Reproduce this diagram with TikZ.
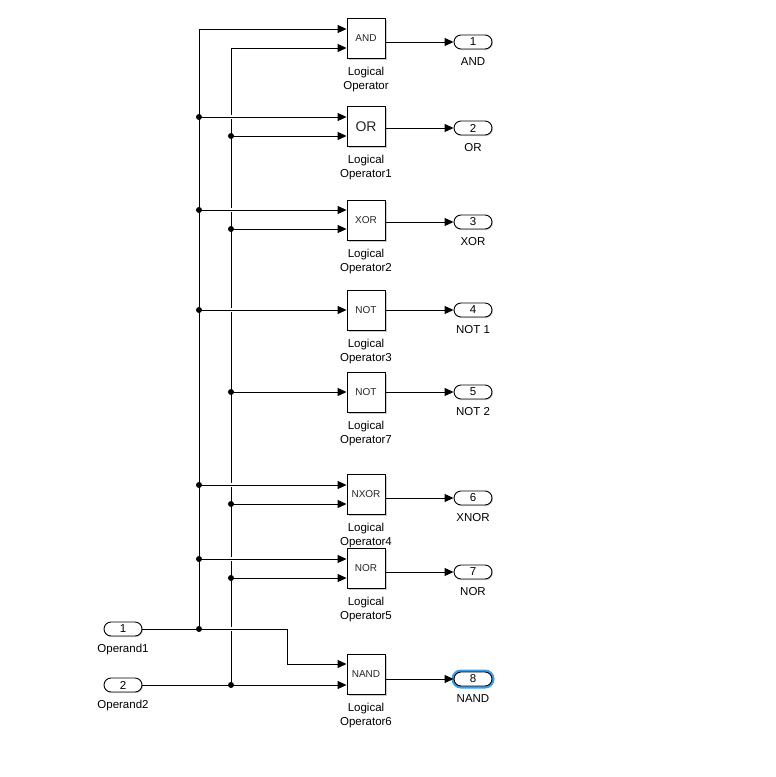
\documentclass[tikz,border=0pt]{standalone}
\usepackage{fontspec}
\setmainfont{Liberation Sans}
\usetikzlibrary{positioning,arrows.meta,shadows}

\definecolor{selblue}{RGB}{55,160,238}

\tikzset{
  blk/.style={draw, fill=white, line width=0.9pt, minimum width=38pt, minimum height=40pt,
    anchor=north, inner sep=0pt, font=\fontsize{10}{12}\selectfont, text=black!85,
    drop shadow={shadow xshift=1.5pt, shadow yshift=-1.5pt, opacity=0.4}},
  port/.style={draw, fill=white, line width=0.9pt, rounded corners=7pt, minimum width=38pt,
    minimum height=14pt, inner sep=0pt, font=\fontsize{11.5}{14}\selectfont,
    drop shadow={shadow xshift=1pt, shadow yshift=-1pt, opacity=0.35}},
  lbl/.style={inner sep=0pt, align=center, font=\fontsize{11.5}{14.5}\selectfont},
  wire/.style={line width=1pt},
  sig/.style={wire, -{Triangle[length=9pt,width=8pt]}},
  hop/.style={sig, preaction={draw=white, line width=3.2pt, -, shorten >=2pt, shorten <=1pt}},
  jdot/.style={circle, fill, inner sep=0pt, minimum size=6pt},
}

\begin{document}
\begin{tikzpicture}[x=1pt, y=-1pt]

    \useasboundingbox (0,0) rectangle (776,777);

    % Inputs
    \node[port] (in1) at (123,629) {1};
    \node[lbl, below=8pt of in1] (in1l) {Operand1};
    \node[port] (in2) at (123,685) {2};
    \node[lbl, below=8pt of in2] (in2l) {Operand2};

    % Logical operator blocks
    \node[blk] (lop) at (366,18) {AND};
    \node[lbl, below=8pt of lop] (lopl) {Logical\\Operator};
    \node[blk, font=\fontsize{14}{16}\selectfont] (lop1) at (366,106) {OR};
    \node[lbl, below=8pt of lop1] (lop1l) {Logical\\Operator1};
    \node[blk] (lop2) at (366,200) {XOR};
    \node[lbl, below=8pt of lop2] (lop2l) {Logical\\Operator2};
    \node[blk] (lop3) at (366,290) {NOT};
    \node[lbl, below=8pt of lop3] (lop3l) {Logical\\Operator3};
    \node[blk] (lop7) at (366,372) {NOT};
    \node[lbl, below=8pt of lop7] (lop7l) {Logical\\Operator7};
    \node[blk] (lop4) at (366,474) {NXOR};
    \node[lbl, below=8pt of lop4] (lop4l) {Logical\\Operator4};
    \node[blk] (lop5) at (366,548) {NOR};
    \node[lbl, below=8pt of lop5] (lop5l) {Logical\\Operator5};
    \node[blk] (lop6) at (366,654) {NAND};
    \node[lbl, below=8pt of lop6] (lop6l) {Logical\\Operator6};

    % Outputs
    \node[port] (out1) at (473,42) {1};
    \node[lbl, below=8pt of out1] (out1l) {AND};
    \node[port] (out2) at (473,128) {2};
    \node[lbl, below=8pt of out2] (out2l) {OR};
    \node[port] (out3) at (473,222) {3};
    \node[lbl, below=8pt of out3] (out3l) {XOR};
    \node[port] (out4) at (473,310) {4};
    \node[lbl, below=8pt of out4] (out4l) {NOT 1};
    \node[port] (out5) at (473,392) {5};
    \node[lbl, below=8pt of out5] (out5l) {NOT 2};
    \node[port] (out6) at (473,498) {6};
    \node[lbl, below=8pt of out6] (out6l) {XNOR};
    \node[port] (out7) at (473,572) {7};
    \node[lbl, below=8pt of out7] (out7l) {NOR};
    \node[port, preaction={draw=selblue, line width=5pt}] (out8) at (473,679) {8};
    \node[lbl, below=8pt of out8] (out8l) {NAND};

    % Branch points, Operand1 bus
    \coordinate (c1) at (199,29);
    \coordinate (a1) at (199,117);
    \coordinate (a2) at (199,210);
    \coordinate (a3) at (199,310);
    \coordinate (a4) at (199,485);
    \coordinate (a5) at (199,559);
    \coordinate (a6) at (199,629);
    \coordinate (k1) at (287,629);

    % Branch points, Operand2 bus
    \coordinate (c2) at (231,48);
    \coordinate (b1) at (231,136);
    \coordinate (b2) at (231,229);
    \coordinate (b3) at (231,392);
    \coordinate (b4) at (231,504);
    \coordinate (b5) at (231,578);
    \coordinate (b6) at (231,685);

    % Operand2 wiring
    \draw[wire] (c2) -- (b6);
    \draw[sig] (c2) -- (c2 -| lop.west);
    \draw[sig] (b1) -- (b1 -| lop1.west);
    \draw[sig] (b2) -- (b2 -| lop2.west);
    \draw[sig] (b3) -- (b3 -| lop7.west);
    \draw[sig] (b4) -- (b4 -| lop4.west);
    \draw[sig] (b5) -- (b5 -| lop5.west);
    \draw[sig] (in2.east) -- (in2.east -| lop6.west);

    % Operand1 wiring (hops over Operand2 bus)
    \draw[sig] (c1) -- (c1 -| lop.west);
    \draw[hop] (a1) -- (a1 -| lop1.west);
    \draw[hop] (a2) -- (a2 -| lop2.west);
    \draw[hop] (a3) -- (a3 -| lop3.west);
    \draw[hop] (a4) -- (a4 -| lop4.west);
    \draw[hop] (a5) -- (a5 -| lop5.west);
    \draw[hop] (in1.east) -- (k1) |- ([yshift=-10pt]lop6.north west);
    \draw[wire] (a6) -- (c1);

    % Junction dots
    \foreach \j in {a1,a2,a3,a4,a5,a6,b1,b2,b3,b4,b5,b6}
        \node[jdot] at (\j) {};

    % Block outputs
    \draw[sig] (lop.east |- out1) -- (out1.west);
    \draw[sig] (lop1.east |- out2) -- (out2.west);
    \draw[sig] (lop2.east |- out3) -- (out3.west);
    \draw[sig] (lop3.east |- out4) -- (out4.west);
    \draw[sig] (lop7.east |- out5) -- (out5.west);
    \draw[sig] (lop4.east |- out6) -- (out6.west);
    \draw[sig] (lop5.east |- out7) -- (out7.west);
    \draw[sig] (lop6.east |- out8) -- (out8.west);

\end{tikzpicture}
\end{document}
